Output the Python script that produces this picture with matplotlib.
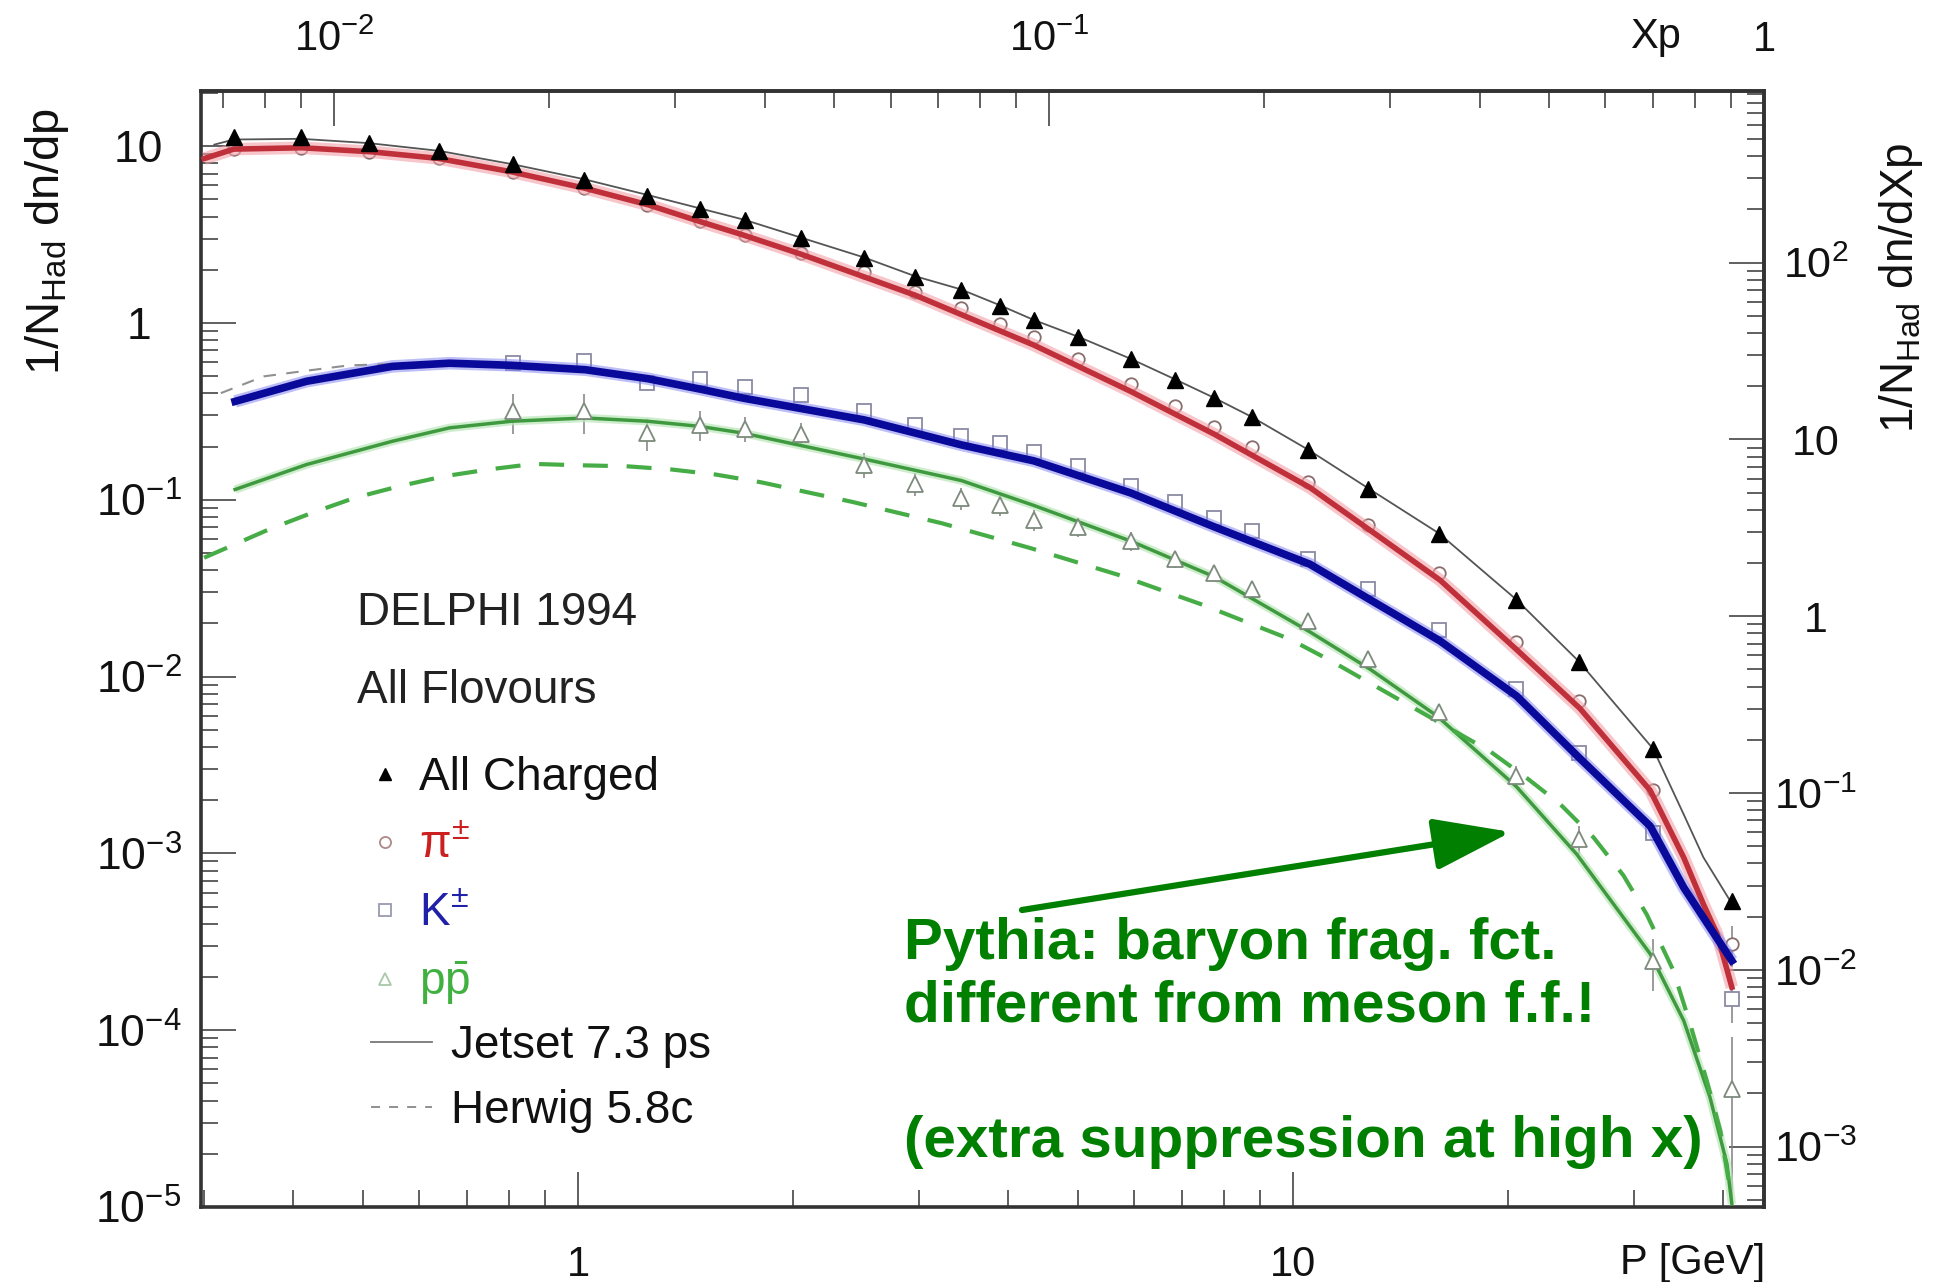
import numpy as np
import matplotlib.pyplot as plt
from matplotlib.lines import Line2D
from matplotlib.ticker import NullFormatter

plt.rcParams['font.family'] = ['Liberation Sans', 'DejaVu Sans']
plt.rcParams['mathtext.fontset'] = 'custom'
plt.rcParams['mathtext.rm'] = 'Liberation Sans'
plt.rcParams['mathtext.it'] = 'Liberation Sans:italic'
plt.rcParams['mathtext.bf'] = 'Liberation Sans:bold'

E_BEAM = 45.6  # GeV, xp = p / E_beam

# ---- DELPHI 1994 data points ----
p_bins = [0.33, 0.41, 0.51, 0.64, 0.81, 1.02, 1.25, 1.48, 1.71, 2.05, 2.51, 2.96, 3.43, 3.89,
          4.34, 5.01, 5.93, 6.84, 7.76, 8.76, 10.5, 12.75, 16.0, 20.5, 25.1, 31.9, 41.1]
charged = [11.3, 11.3, 10.4, 9.38, 7.88, 6.43, 5.25, 4.41, 3.81, 3.02, 2.34, 1.83, 1.54, 1.25,
           1.04, 0.831, 0.623, 0.476, 0.374, 0.292, 0.191, 0.115, 0.0642, 0.0272, 0.0121,
           0.00387, 0.000535]
pion = [9.62, 9.79, 9.30, 8.53, 7.16, 5.77, 4.65, 3.75, 3.15, 2.50, 1.94, 1.50, 1.22, 0.99,
        0.83, 0.623, 0.450, 0.338, 0.258, 0.200, 0.126, 0.072, 0.0385, 0.0156, 0.00724,
        0.00227, 0.000309]
err_pion = [0.3, 0.3, 0.3, 0.3, 0.25, 0.2, 0.15, 0.12, 0.1, 0.08, 0.06, 0.05, 0.04, 0.035,
            0.03, 0.025, 0.02, 0.015, 0.011, 0.009, 0.006, 0.0035, 0.002, 0.0009, 0.0005,
            0.0002, 8e-5]

p_id = [0.81, 1.02, 1.25, 1.48, 1.71, 2.05, 2.51, 2.96, 3.43, 3.89, 4.34, 5.01, 5.93, 6.84,
        7.76, 8.76, 10.5, 12.75, 16.0, 20.5, 25.1, 31.9, 41.1]
kaon = [0.593, 0.606, 0.457, 0.484, 0.434, 0.392, 0.318, 0.264, 0.230, 0.209, 0.187, 0.155,
        0.120, 0.097, 0.079, 0.067, 0.0464, 0.0312, 0.0183, 0.0085, 0.0037, 0.00131, 0.00015]
err_kaon = [0.04, 0.04, 0.03, 0.03, 0.025, 0.02, 0.015, 0.012, 0.01, 0.009, 0.008, 0.006,
            0.005, 0.004, 0.003, 0.003, 0.002, 0.0014, 0.0008, 0.0004, 0.0002, 0.0001, 4e-5]
proton = [0.316, 0.316, 0.238, 0.266, 0.252, 0.235, 0.158, 0.123, 0.102, 0.093, 0.077, 0.0703,
          0.0584, 0.0462, 0.0385, 0.0312, 0.0206, 0.0126, 0.0063, 0.00273, 0.00121, 0.000247,
          4.66e-5]
err_proton = [0.08, 0.08, 0.05, 0.05, 0.04, 0.035, 0.025, 0.018, 0.014, 0.012, 0.01, 0.009,
              0.007, 0.005, 0.004, 0.0033, 0.0022, 0.0014, 0.0007, 0.0004, 0.00022, 8e-5, 4.5e-5]

# ---- model curves ----
jetset_ch_p = [0.31, 0.33, 0.41, 0.51, 0.64, 0.81, 1.02, 1.25, 1.48, 1.71, 2.05, 2.51, 2.96,
               3.43, 3.89, 4.34, 5.01, 5.93, 6.84, 7.76, 8.76, 10.5, 12.75, 16.0, 20.5, 25.1,
               31.9, 35.2, 37.5, 41.1]
jetset_ch = [10.2, 10.9, 11.0, 10.4, 9.4, 7.9, 6.5, 5.3, 4.45, 3.83, 3.04, 2.35, 1.84, 1.55,
             1.26, 1.04, 0.835, 0.627, 0.48, 0.377, 0.294, 0.192, 0.116, 0.0646, 0.0274,
             0.0122, 0.0039, 0.00166, 0.00095, 0.00052]

jetset_pi_p = [0.30, 0.33, 0.411, 0.512, 0.637, 0.807, 1.024, 1.255, 1.48, 1.70, 2.05, 2.96,
               4.34, 5.93, 7.76, 10.56, 12.82, 16.06, 20.56, 25.2, 31.6, 35.2, 37.5, 39.2, 41.1]
jetset_pi = [8.5, 9.62, 9.79, 9.30, 8.53, 7.16, 5.77, 4.65, 3.75, 3.15, 2.45, 1.437, 0.750,
             0.410, 0.235, 0.1173, 0.0672, 0.0351, 0.01418, 0.0066, 0.00227, 0.000947,
             0.000516, 0.000349, 0.000175]

jetset_k_p = [0.3315, 0.4173, 0.55, 0.661, 0.807, 1.024, 1.252, 1.48, 1.70, 2.513, 3.436, 4.34,
              5.93, 7.76, 10.56, 12.82, 16.06, 20.56, 25.2, 31.6, 35.2, 38.3, 41.1]
jetset_k = [0.360, 0.468, 0.568, 0.592, 0.576, 0.544, 0.484, 0.423, 0.376, 0.283, 0.2044,
            0.166, 0.1093, 0.0703, 0.0432, 0.0272, 0.0159, 0.00775, 0.00344, 0.001425,
            0.000641, 0.000381, 0.000247]
herwig_k_p = [0.3166, 0.3634, 0.4173, 0.479, 0.55, 0.62]
herwig_k = [0.401, 0.4986, 0.537, 0.576, 0.585, 0.595]

jetset_pr_p = [0.3315, 0.4173, 0.55, 0.661, 0.807, 1.024, 1.252, 1.48, 1.70, 2.513, 3.436,
               4.34, 5.93, 7.76, 10.56, 12.82, 15.89, 20.56, 24.94, 31.6, 35.2, 38.3, 40.45,
               41.1]
jetset_pr = [0.1143, 0.1582, 0.2142, 0.255, 0.278, 0.29, 0.278, 0.260, 0.2384, 0.170, 0.1285,
             0.0929, 0.0584, 0.0367, 0.0179, 0.0110, 0.0060, 0.002374, 0.000989, 0.00027,
             0.0001132, 4.18e-5, 1.757e-5, 1.04e-5]
herwig_pr_p = [0.30, 0.3697, 0.4245, 0.4874, 0.563, 0.65, 0.75, 0.867, 1.006, 1.169, 1.35,
               1.558, 1.804, 2.418, 3.225, 4.299, 5.70, 7.51, 9.90, 11.27, 18.86, 21.23, 23.64,
               26.33, 28.99, 31.26, 34.0, 35.9, 37.9, 39.6, 40.7]
herwig_pr = [0.047, 0.068, 0.0843, 0.1026, 0.1194, 0.1358, 0.1484, 0.1595, 0.1567, 0.1547,
             0.1484, 0.1389, 0.1255, 0.0973, 0.0737, 0.0532, 0.0376, 0.0253, 0.01628, 0.01235,
             0.00378, 0.00267, 0.0019, 0.00123, 0.00075, 0.00045, 0.00022, 0.00011, 5.2e-5,
             2.7e-5, 1.4e-5]

y_ticks = [1e-5, 1e-4, 1e-3, 1e-2, 1e-1, 1, 10]
y_labels = ['$10^{-5}$', '$10^{-4}$', '$10^{-3}$', '$10^{-2}$', '$10^{-1}$', '1', '10']
yr_ticks = [1e-3, 1e-2, 1e-1, 1, 10, 100]
yr_labels = ['$10^{-3}$', '$10^{-2}$', '$10^{-1}$', '1', '10', '$10^{2}$']
xp_ticks = [0.01, 0.1, 1]
xp_labels = ['$10^{-2}$', '$10^{-1}$', '1']

RED = '#c0303a'
BLUE = '#0a0a9a'
GREEN = '#3f9a3f'
ANN = '#007f00'
GRID = '#444444'

fig = plt.figure(figsize=(19.42, 12.82), dpi=100)
ax = fig.add_axes([0.1035, 0.0585, 0.8049, 0.8705])
ax.set_xscale('log')
ax.set_yscale('log')
ax.set_xlim(0.297, E_BEAM)
ax.set_ylim(1e-5, 20.5)

# model curves
ax.plot(jetset_pi_p, jetset_pi, color='#f2a0a8', lw=9, alpha=0.6, zorder=3, solid_capstyle='butt')
ax.plot(jetset_pi_p, jetset_pi, color=RED, lw=4, zorder=3.1)
ax.plot(jetset_k_p, jetset_k, color='#7c7cf0', lw=9, alpha=0.5, zorder=3, solid_capstyle='butt')
ax.plot(jetset_k_p, jetset_k, color=BLUE, lw=5.5, zorder=3.1)
ax.plot(herwig_k_p, herwig_k, color='#909090', lw=1.5, ls=(0, (6, 5)), zorder=3)
ax.plot(jetset_pr_p, jetset_pr, color='#b8e6b8', lw=6, alpha=0.7, zorder=3, solid_capstyle='butt')
ax.plot(jetset_pr_p, jetset_pr, color=GREEN, lw=2.5, zorder=3.1)
ax.plot(herwig_pr_p, herwig_pr, color='#46ad46', lw=3, ls=(0, (6, 4.5)), zorder=3.1)
ax.plot(jetset_ch_p, jetset_ch, color='#555555', lw=1.3, zorder=4)

# data points
eb = dict(fmt='none', ecolor='#808080', elinewidth=1.1, zorder=2)
ax.errorbar(p_bins, pion, yerr=err_pion, **eb)
ax.errorbar(p_id, kaon, yerr=err_kaon, **eb)
ax.errorbar(p_id, proton, yerr=err_proton, **eb)
ax.plot(p_bins, pion, 'o', ms=9, mfc='white', mec='#8a6e6e', mew=1.3, ls='none', zorder=2.5)
ax.plot(p_id, kaon, 's', ms=10, mfc='white', mec='#8a8aa2', mew=1.3, ls='none', zorder=2.5)
ax.plot(p_id, proton, '^', ms=11, mfc='white', mec='#7d8a7d', mew=1.3, ls='none', zorder=3.3)
ax.plot(p_bins, charged, '^', ms=11, color='black', ls='none', zorder=5)

# axes, ticks
ax.set_xticks([1, 10], ['1', '10'])
ax.set_yticks(y_ticks, y_labels, ha='center')
ax.xaxis.set_minor_formatter(NullFormatter())
ax.yaxis.set_minor_formatter(NullFormatter())
ax.tick_params(which='both', direction='in', color=GRID, width=1.2, labelcolor='#111111')
ax.tick_params(which='major', length=25)
ax.tick_params(which='minor', length=12)
ax.tick_params(axis='y', which='major', pad=45, labelsize=32)
ax.tick_params(axis='x', which='major', pad=27, labelsize=30)
for s in ax.spines.values():
    s.set_linewidth(2.6)
    s.set_color('#333333')

top = ax.secondary_xaxis('top', functions=(lambda p: p / E_BEAM, lambda x: x * E_BEAM))
top.set_xticks(xp_ticks, xp_labels)
top.xaxis.set_minor_formatter(NullFormatter())
top.tick_params(which='both', direction='in', color=GRID, width=1.2, labelcolor='#111111')
top.tick_params(which='major', length=25, pad=22, labelsize=30)
top.tick_params(which='minor', length=12)
top.spines['top'].set_linewidth(2.6)
top.spines['top'].set_color('#333333')

right = ax.secondary_yaxis('right', functions=(lambda v: v * E_BEAM, lambda v: v / E_BEAM))
right.set_yticks(yr_ticks, yr_labels, ha='center')
right.yaxis.set_minor_formatter(NullFormatter())
right.tick_params(which='both', direction='in', color=GRID, width=1.2, labelcolor='#111111')
right.tick_params(which='major', length=25, pad=37, labelsize=31)
right.tick_params(which='minor', length=12)
right.spines['right'].set_linewidth(2.6)
right.spines['right'].set_color('#333333')

W, H = 1942, 1282
fig.text(1655 / W, 1 - 37 / H, 'Xp', fontsize=30, ha='center', va='center', color='#111111')
fig.text(1765 / W, 1 - 1263 / H, 'P [GeV]', fontsize=30, ha='right', va='center', color='#111111')
fig.text(47 / W, 1 - 241 / H, r'1/N$_{\mathrm{Had}}$ dn/dp', fontsize=34, rotation=90,
         ha='center', va='center', color='#111111')
fig.text(1901 / W, 1 - 288 / H, r'1/N$_{\mathrm{Had}}$ dn/dXp', fontsize=33, rotation=90,
         ha='center', va='center', color='#111111')

# legend block
fig.text(357 / W, 1 - 613 / H, 'DELPHI 1994', fontsize=33, va='center', color='#222222')
fig.text(357 / W, 1 - 691 / H, 'All Flovours', fontsize=33, va='center', color='#222222')

h_markers = [
    Line2D([], [], marker='^', ls='none', ms=9, color='black'),
    Line2D([], [], marker='o', ls='none', ms=8, mfc='white', mec='#b08888', mew=1.3),
    Line2D([], [], marker='s', ls='none', ms=8, mfc='white', mec='#9a9ab0', mew=1.3),
    Line2D([], [], marker='^', ls='none', ms=9, mfc='white', mec='#a8c8a8', mew=1.3),
]
l_markers = ['All Charged', r'$\mathrm{\pi}^{\pm}$', r'K$^{\pm}$', r'$\mathrm{p\bar{p}}$']
legA = ax.legend(h_markers, l_markers, loc='upper left', bbox_to_anchor=(0.109, 0.404),
                 frameon=False, borderpad=0, borderaxespad=0, handlelength=0.6,
                 handletextpad=0.43, labelspacing=0.52, fontsize=33,
                 labelcolor=['#111111', '#cc2020', '#2020a8', '#40b040'])
ax.add_artist(legA)
h_lines = [Line2D([], [], color='#777777', lw=1.3),
           Line2D([], [], color='#888888', lw=1.3, ls=(0, (5, 5)))]
ax.legend(h_lines, ['Jetset 7.3 ps', 'Herwig 5.8c'], loc='upper left',
          bbox_to_anchor=(0.109, 0.164), frameon=False, borderpad=0, borderaxespad=0,
          handlelength=1.33, handletextpad=0.41, labelspacing=0.45, fontsize=33,
          labelcolor='#111111')

# annotation
fig.text(904 / W, 1 - 944 / H, 'Pythia: baryon frag. fct.', fontsize=42, weight='bold',
         color=ANN, va='center')
fig.text(904 / W, 1 - 1006 / H, 'different from meson f.f.!', fontsize=42, weight='bold',
         color=ANN, va='center')
fig.text(904 / W, 1 - 1142 / H, '(extra suppression at high x)', fontsize=42, weight='bold',
         color=ANN, va='center')
ax.annotate('', xy=(1511, H - 832), xytext=(1022, H - 910), xycoords='figure pixels',
            textcoords='figure pixels',
            arrowprops=dict(arrowstyle='-|>,head_length=1.2,head_width=0.4', mutation_scale=40,
                            lw=4.5, color=ANN, shrinkA=0, shrinkB=0))

fig.savefig('out.png', dpi=100)
